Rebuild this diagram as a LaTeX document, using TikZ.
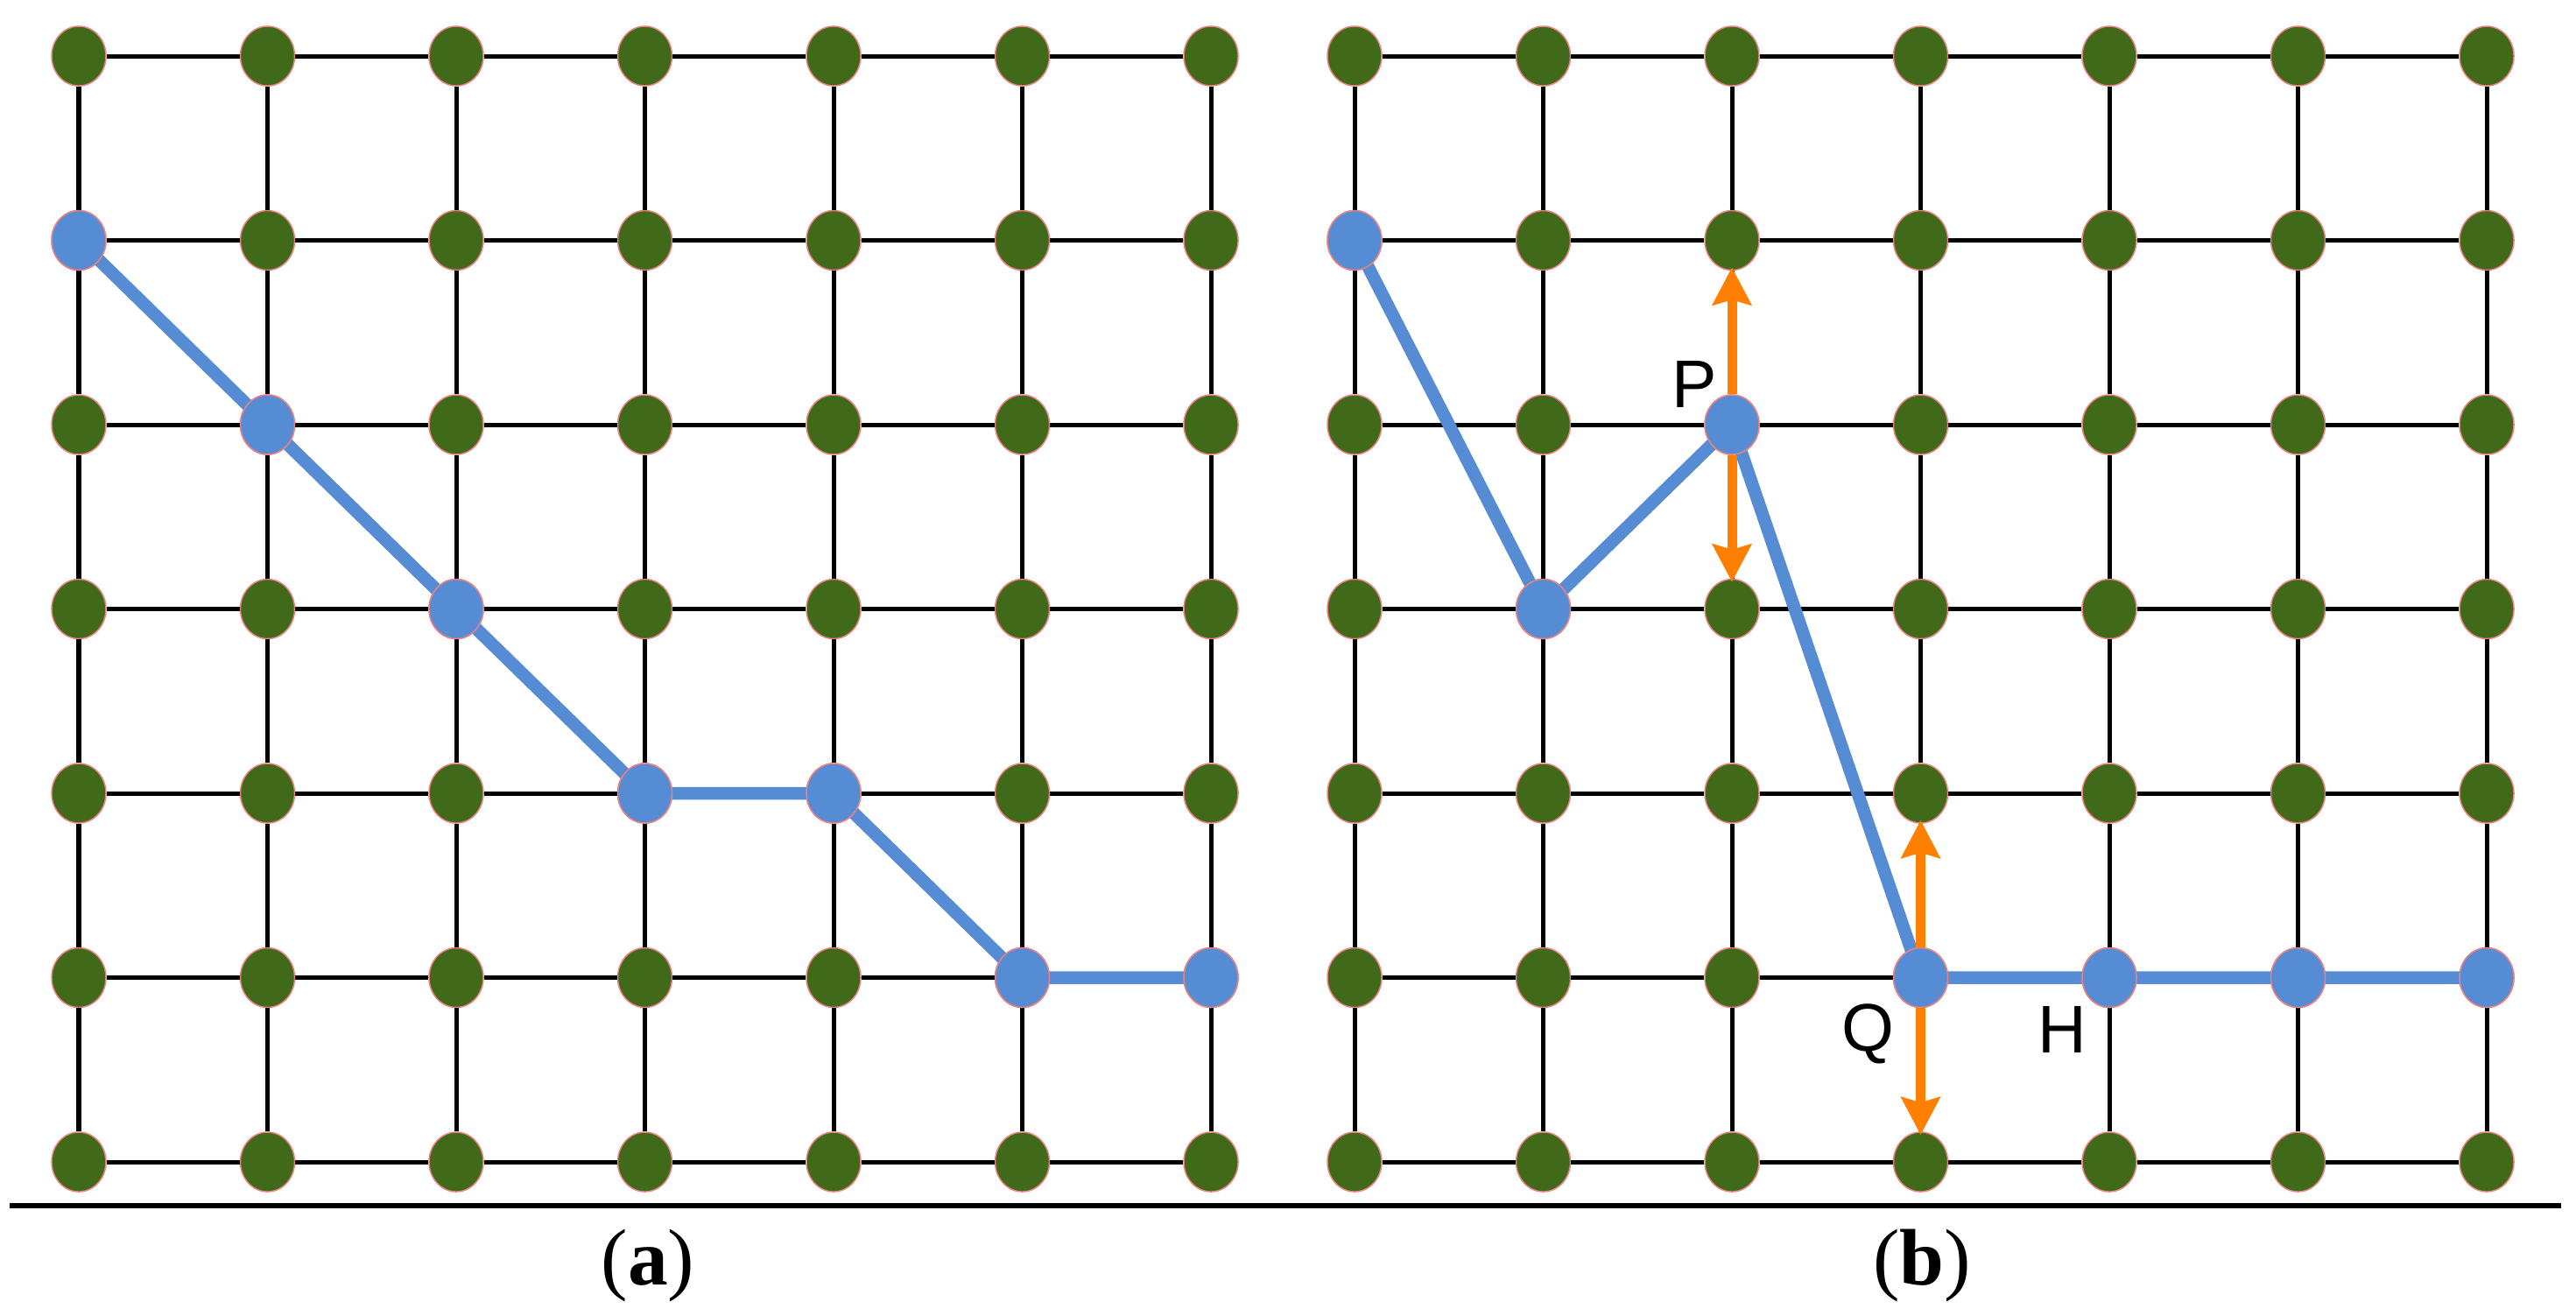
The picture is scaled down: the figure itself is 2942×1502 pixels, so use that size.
\documentclass[tikz,border=0pt]{standalone}
\usepackage{fontspec}
\setmainfont{Liberation Serif}
\newfontfamily\arialfont{Liberation Sans}
\usetikzlibrary{shapes.geometric,arrows.meta}
\definecolor{dotgreen}{RGB}{65,105,26}
\definecolor{pathblue}{RGB}{86,140,212}
\definecolor{arrorange}{RGB}{255,128,0}
\definecolor{rimred}{RGB}{235,130,130}
\begin{document}
\begin{tikzpicture}[x=0.01cm,y=-0.01cm,
  dot/.style={ellipse, inner sep=0pt, minimum width=0.62cm, minimum height=0.68cm, fill=dotgreen, draw=rimred, line width=0.015cm},
  bluedot/.style={dot, fill=pathblue},
  gridline/.style={line width=0.05cm, black},
  pathline/.style={line width=0.145cm, pathblue},
  movearrow/.style={line width=0.11cm, arrorange, shorten >=-0.04cm, -{Stealth[length=0.43cm,width=0.44cm,inset=0.06cm]}},
  ptlabel/.style={font=\arialfont\fontsize{21.9}{26}\selectfont, anchor=base, inner sep=0pt},
  sublabel/.style={font=\fontsize{26}{30}\selectfont, anchor=base, inner sep=0pt}]
\useasboundingbox (0,0) rectangle (2942,1502);
% dots
\foreach \i in {0,...,6}{
  \foreach \j in {0,...,6}{
    \node[dot] (a-\i-\j) at ({90+215.5*\i},{64+210.5*\j}) {};
    \node[dot] (b-\i-\j) at ({1547+215.5*\i},{64+210.5*\j}) {};
  }
}
% grid lines
\foreach \i [evaluate=\i as \k using int(\i+1)] in {0,...,5}{
  \foreach \j in {0,...,6}{
    \draw[gridline] (a-\i-\j) -- (a-\k-\j);
    \draw[gridline] (b-\i-\j) -- (b-\k-\j);
    \draw[gridline] (a-\j-\i) -- (a-\j-\k);
    \draw[gridline] (b-\j-\i) -- (b-\j-\k);
  }
}
% blue paths
\draw[pathline] (a-0-1.center) -- (a-1-2.center) -- (a-2-3.center) -- (a-3-4.center) -- (a-4-4.center) -- (a-5-5.center) -- (a-6-5.center);
\draw[pathline] (b-0-1.center) -- (b-1-3.center) -- (b-2-2.center) -- (b-3-5.center) -- (b-4-5.center) -- (b-5-5.center) -- (b-6-5.center);
% blue dots
\foreach \i/\j in {0/1,1/2,2/3,3/4,4/4,5/5,6/5}{
  \node[bluedot] (pa-\i-\j) at (a-\i-\j) {};
}
\foreach \i/\j in {0/1,1/3,2/2,3/5,4/5,5/5,6/5}{
  \node[bluedot] (pb-\i-\j) at (b-\i-\j) {};
}
% orange arrows
\draw[movearrow] (pb-2-2) -- (b-2-1);
\draw[movearrow] (pb-2-2) -- (b-2-3);
\draw[movearrow] (pb-3-5) -- (b-3-4);
\draw[movearrow] (pb-3-5) -- (b-3-6);
% labels
\node[ptlabel] (lp) at (1935,465) {P};
\node[ptlabel] (lq) at (2133,1200) {Q};
\node[ptlabel] (lh) at (2355,1202) {H};
% separator
\coordinate (sepL) at (11,1377);
\coordinate (sepR) at (2925,1377);
\draw[line width=0.055cm] (sepL) -- (sepR);
\node[sublabel] (capa) at (740,1467) {(\textbf{a})};
\node[sublabel] (capb) at (2195,1467) {(\textbf{b})};
\end{tikzpicture}
\end{document}
